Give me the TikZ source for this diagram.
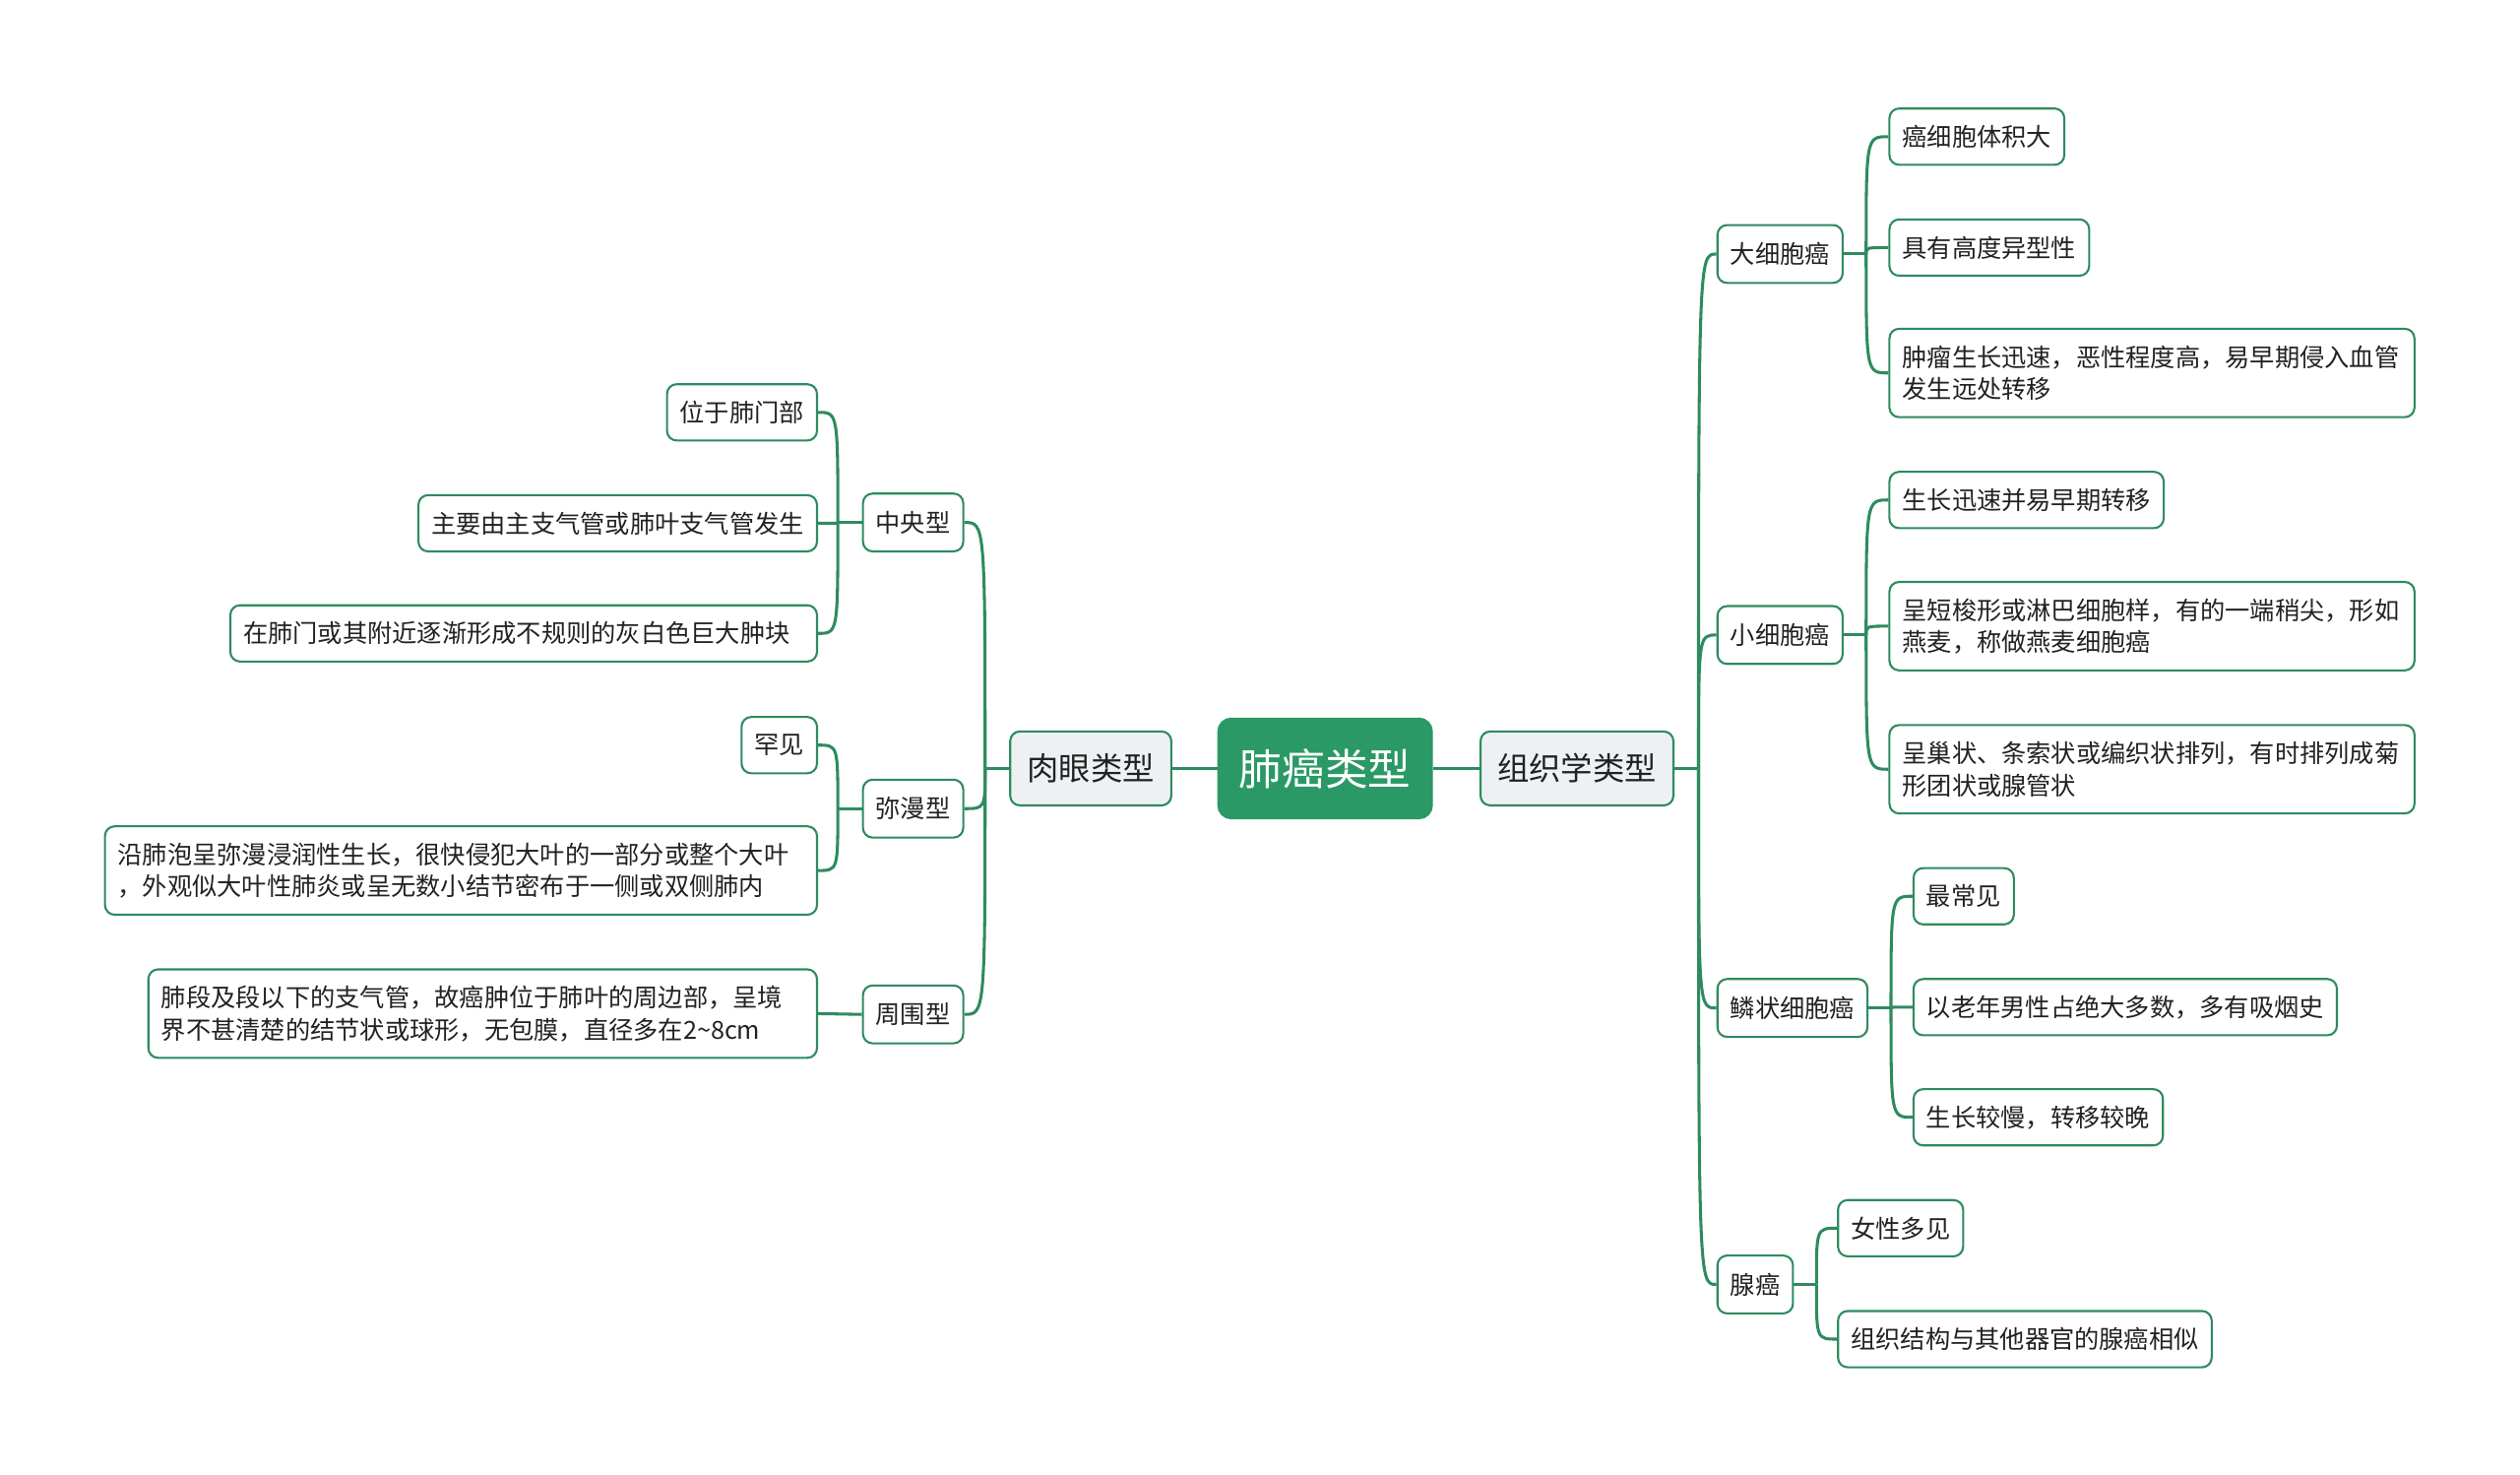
\documentclass[tikz,border=0pt]{standalone}
\usepackage{fontspec}
\usepackage{xcolor}
\usepackage{tikz}
\usetikzlibrary{positioning}
\newfontfamily\cjk{Noto Sans CJK SC}
\definecolor{lineColor}{HTML}{2E8B5F}
\definecolor{rootColor}{HTML}{2A9966}
\definecolor{typeColor}{HTML}{EEF1F3}
\definecolor{textColor}{HTML}{222222}

\tikzset{
    box/.style={rectangle, rounded corners=0.18cm, draw=lineColor, line width=1.1pt, fill=white, text=textColor, font=\cjk\fontsize{13.2}{17}\selectfont, inner xsep=0.24cm, inner ysep=0.1cm, minimum height=1.05cm},
    leafNode/.style={box},
    wideNode/.style={box, text width=#1, align=left, minimum height=1.65cm},
    subNode/.style={box, minimum height=1.08cm},
    typeNode/.style={box, fill=typeColor, minimum height=1.38cm, inner xsep=0.315cm, font=\cjk\fontsize{16.9}{20}\selectfont},
    rootNode/.style={box, fill=rootColor, draw=rootColor, text=white, minimum height=1.86cm, inner xsep=0.39cm, rounded corners=0.24cm, font=\cjk\fontsize{22.8}{26}\selectfont},
    link/.style={draw=lineColor, line width=1.6pt}
}

\begin{document}
\begin{tikzpicture}[x=0.03cm, y=-0.03cm]
        \useasboundingbox (0,0) rectangle (1568,917);

        \node[rootNode] (root) at (824.5,478) {肺癌类型};
        \node[typeNode, right=0.87cm of root] (zzx) {组织学类型};
        \node[typeNode, left=0.84cm of root] (ryx) {肉眼类型};

        % right side
        \node[subNode, anchor=west] (dxb) at (1068,158) {大细胞癌};
        \node[subNode, anchor=west] (xxb) at (1068,395) {小细胞癌};
        \node[subNode, anchor=west] (lzx) at (1068,627) {鳞状细胞癌};
        \node[subNode, anchor=west] (xa) at (1068,799) {腺癌};

        \node[leafNode, anchor=west] (dxb1) at (1175,85) {癌细胞体积大};
        \node[leafNode, anchor=west] (dxb2) at (1175,154) {具有高度异型性};
        \node[wideNode=9.32cm, anchor=west] (dxb3) at (1175,232) {肿瘤生长迅速，恶性程度高，易早期侵入血管\\发生远处转移};

        \node[leafNode, anchor=west] (xxb1) at (1175,311) {生长迅速并易早期转移};
        \node[wideNode=9.32cm, anchor=west] (xxb2) at (1175,389.5) {呈短梭形或淋巴细胞样，有的一端稍尖，形如\\燕麦，称做燕麦细胞癌};
        \node[wideNode=9.32cm, anchor=west] (xxb3) at (1175,478.5) {呈巢状、条索状或编织状排列，有时排列成菊\\形团状或腺管状};

        \node[leafNode, anchor=west] (lzx1) at (1190,557.5) {最常见};
        \node[leafNode, anchor=west] (lzx2) at (1190,626.5) {以老年男性占绝大多数，多有吸烟史};
        \node[leafNode, anchor=west] (lzx3) at (1190,695) {生长较慢，转移较晚};

        \node[leafNode, anchor=west] (xa1) at (1143,764) {女性多见};
        \node[leafNode, anchor=west] (xa2) at (1143,833) {组织结构与其他器官的腺癌相似};

        % left side
        \node[subNode, anchor=east] (zyx) at (600,325) {中央型};
        \node[subNode, anchor=east] (mmx) at (600,503) {弥漫型};
        \node[subNode, anchor=east] (zwx) at (600,631) {周围型};

        \node[leafNode, anchor=east] (zyx1) at (509,256.5) {位于肺门部};
        \node[leafNode, anchor=east] (zyx2) at (509,325.5) {主要由主支气管或肺叶支气管发生};
        \node[wideNode=10.47cm, minimum height=1.05cm, anchor=east] (zyx3) at (509,394) {在肺门或其附近逐渐形成不规则的灰白色巨大肿块};

        \node[leafNode, anchor=east] (mmx1) at (509,463.5) {罕见};
        \node[wideNode=12.81cm, anchor=east] (mmx2) at (509,541.5) {沿肺泡呈弥漫浸润性生长，很快侵犯大叶的一部分或整个大叶\\，外观似大叶性肺炎或呈无数小结节密布于一侧或双侧肺内};

        \node[wideNode=12.0cm, anchor=east] (zwx1) at (509,630.5) {肺段及段以下的支气管，故癌肿位于肺叶的周边部，呈境\\界不甚清楚的结节状或球形，无包膜，直径多在2\textasciitilde8cm};

        % connectors
        \draw[link] (root) -- (zzx);
        \draw[link] (root) -- (ryx);

        \draw[link] (zzx.east) -- ++(15,0) coordinate (zzxS);
        \foreach \c in {dxb,xxb,lzx,xa}
            \draw[link] (zzxS) .. controls (zzxS |- \c.west) .. (\c.west);

        \draw[link] (dxb.east) -- ++(14,0) coordinate (dxbS);
        \foreach \c in {dxb1,dxb2,dxb3}
            \draw[link] (dxbS) .. controls (dxbS |- \c.west) .. (\c.west);

        \draw[link] (xxb.east) -- ++(14,0) coordinate (xxbS);
        \foreach \c in {xxb1,xxb2,xxb3}
            \draw[link] (xxbS) .. controls (xxbS |- \c.west) .. (\c.west);

        \draw[link] (lzx.east) -- ++(14,0) coordinate (lzxS);
        \foreach \c in {lzx1,lzx2,lzx3}
            \draw[link] (lzxS) .. controls (lzxS |- \c.west) .. (\c.west);

        \draw[link] (xa.east) -- ++(14,0) coordinate (xaS);
        \foreach \c in {xa1,xa2}
            \draw[link] (xaS) .. controls (xaS |- \c.west) .. (\c.west);

        \draw[link] (ryx.west) -- ++(-15,0) coordinate (ryxS);
        \foreach \c in {zyx,mmx,zwx}
            \draw[link] (ryxS) .. controls (ryxS |- \c.east) .. (\c.east);

        \draw[link] (zyx.west) -- ++(-15,0) coordinate (zyxS);
        \foreach \c in {zyx1,zyx2,zyx3}
            \draw[link] (zyxS) .. controls (zyxS |- \c.east) .. (\c.east);

        \draw[link] (mmx.west) -- ++(-15,0) coordinate (mmxS);
        \foreach \c in {mmx1,mmx2}
            \draw[link] (mmxS) .. controls (mmxS |- \c.east) .. (\c.east);

        \draw[link] (zwx.west) -- (zwx1.east);
    \end{tikzpicture}
\end{document}
